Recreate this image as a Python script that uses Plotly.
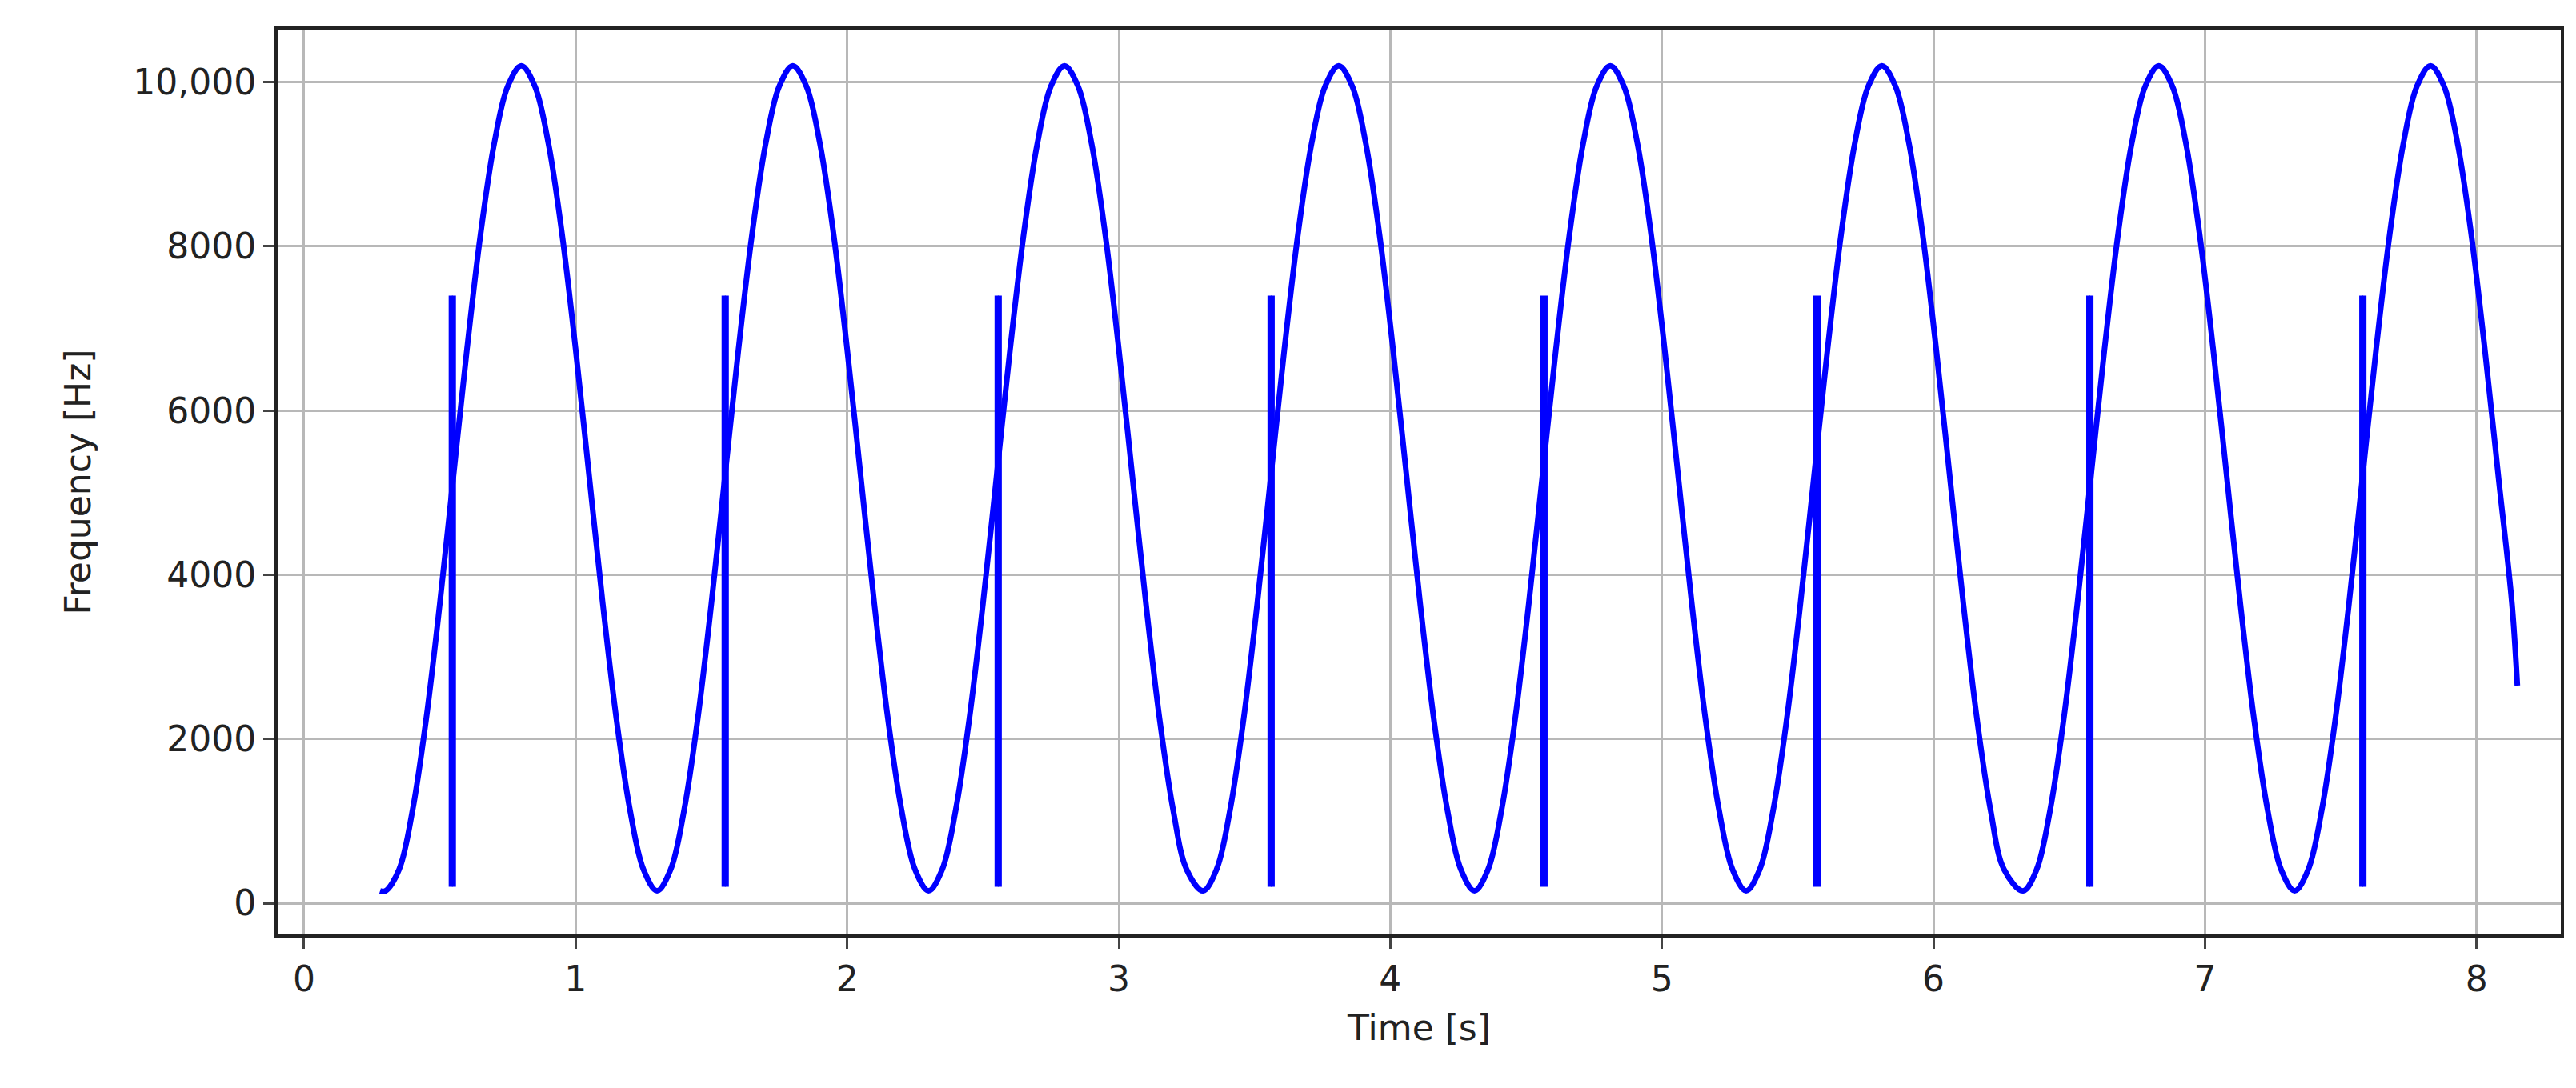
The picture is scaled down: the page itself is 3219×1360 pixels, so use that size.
import plotly.graph_objects as go

# Times of the curve maxima (s)
peak_times = [0.80, 1.80, 2.80, 3.81, 4.81, 5.81, 6.83, 7.83]
# One cycle of the curve around a maximum: offset from the peak (s) and frequency (Hz)
cycle_offsets = [-0.50, -0.45, -0.40, -0.35, -0.30, -0.25, -0.20, -0.15, -0.10, -0.05,
                 0.00, 0.05, 0.10, 0.15, 0.20, 0.25, 0.30, 0.35, 0.40, 0.45]
cycle_freqs = [150, 410, 1140, 2250, 3650, 5200, 6750, 8150, 9250, 9950,
               10200, 9950, 9250, 8150, 6750, 5200, 3650, 2250, 1140, 410]
start_point = (0.28, 150)
end_point = (8.15, 2650)
# Vertical spikes
spike_times = [0.54, 1.545, 2.55, 3.555, 4.56, 5.565, 6.57, 7.575]
spike_low, spike_high = 200, 7400

xs, ys = [start_point[0]], [start_point[1]]
for p in peak_times:
    for d, f in zip(cycle_offsets, cycle_freqs):
        t = p + d
        if start_point[0] < t < end_point[0]:
            xs.append(t); ys.append(f)
xs.append(end_point[0]); ys.append(end_point[1])

sx, sy = [], []
for t in spike_times:
    for dt in (0.0, 0.012):
        sx += [t + dt, t + dt, None]
        sy += [spike_low, spike_high, None]

fig = go.Figure()
fig.add_trace(go.Scatter(x=xs, y=ys, mode="lines", line=dict(color="#0000ff", width=7, shape="spline"),
                         showlegend=False))
fig.add_trace(go.Scatter(x=sx, y=sy, mode="lines", line=dict(color="#0000ff", width=5),
                         showlegend=False))

font = dict(family="DejaVu Sans", size=44, color="#222")
fig.update_layout(
    width=3219, height=1360, plot_bgcolor="white", paper_bgcolor="white",
    margin=dict(l=339, r=27, t=29, b=200), font=font,
    xaxis=dict(range=[-0.097, 8.31], tickvals=list(range(9)), showgrid=True, gridcolor="#b8b8b8",
               gridwidth=3, zeroline=False, showline=True, linecolor="#222", linewidth=4, mirror=True,
               ticks="outside", ticklen=14, tickwidth=3, title=dict(text="Time [s]", font=dict(size=44), standoff=22)),
    yaxis=dict(range=[-380, 10640], tickvals=[0, 2000, 4000, 6000, 8000, 10000],
               ticktext=["0", "2000", "4000", "6000", "8000", "10,000"], showgrid=True, gridcolor="#b8b8b8",
               gridwidth=3, zeroline=False, showline=True, linecolor="#222", linewidth=4, mirror=True,
               ticks="outside", ticklen=14, tickwidth=3,
               title=dict(text="Frequency [Hz]", font=dict(size=44), standoff=40)),
)
fig.write_html("out.html")
